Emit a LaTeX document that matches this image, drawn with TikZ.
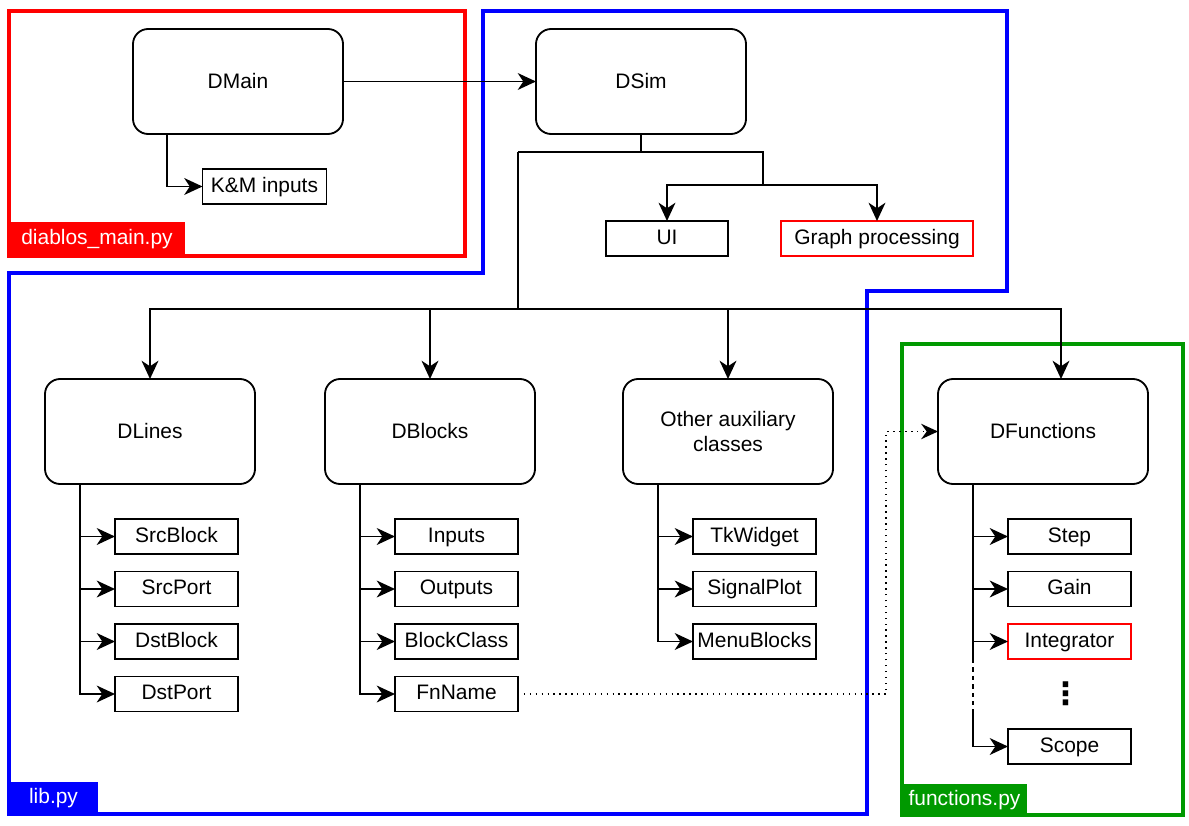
\documentclass[tikz,border=0pt]{standalone}
\usepackage{fontspec}
\setmainfont{Liberation Sans}
\newfontfamily\symfont{DejaVu Sans}
\usepackage{tikz}
\usetikzlibrary{arrows.meta, positioning, calc}

\begin{document}
\begin{tikzpicture}[
  x=0.025cm, y=-0.025cm,
  font=\fontsize{14.9}{17.5}\selectfont,
  rbox/.style={draw, line width=1.3pt, rounded corners=0.38cm, minimum width=5.25cm, minimum height=2.625cm, inner sep=0pt, outer sep=0pt, align=center},
  cbox/.style={draw, line width=1.3pt, minimum width=3.075cm, minimum height=0.875cm, inner sep=0pt, outer sep=0pt, text depth=0.3ex, text height=1.9ex},
  line/.style={line width=1.3pt},
  arr/.style={line, -{Stealth[length=13pt, width=12pt, inset=4pt]}},
  dotarr/.style={line width=1pt, dash pattern=on 1pt off 3.2pt, -{Stealth[length=12pt, width=11pt, inset=4pt]}},
  frame/.style={line width=2.2pt},
  tag/.style={anchor=south west, text=white, inner sep=0pt, outer sep=0pt, minimum height=0.875cm}
]
  \useasboundingbox (0,0) rectangle (1189,826);

  % module frames
  \draw[frame, red] (9,11) rectangle (465,256);
  \node[tag, fill=red, minimum width=4.4cm] (maintag) at (9,257) {diablos\_main.py};
  \draw[frame, blue] (483,11) -- (1007,11) -- (1007,291) -- (867,291) -- (867,814) -- (9,814) -- (9,273) -- (483,273) -- cycle;
  \node[tag, fill=blue, minimum width=2.225cm, minimum height=0.825cm] (libtag) at (9,815) {lib.py};
  \draw[frame, green!60!black] (902,344) rectangle (1183,815);
  \node[tag, fill=green!60!black, minimum width=3.125cm, minimum height=0.8cm] (functag) at (902,816) {functions.py};

  % top level
  \node[rbox] (dmain) at (238,81.5) {DMain};
  \node[rbox] (dsim) at (641,81.5) {DSim};
  \node[cbox, minimum width=3.1cm] (km) at (264.5,186.5) {K\&M inputs};
  \node[cbox, minimum width=3.05cm] (ui) at (667,238.5) {UI};
  \node[cbox, draw=red, minimum width=4.8cm] (graph) at (877,238.5) {Graph processing};

  \draw[arr] (dmain) -- (dsim);
  \draw[arr] ([xshift=0.85cm]dmain.south west) |- (km.west);

  \coordinate (split) at (641,152);
  \coordinate (uibranch) at (763,185);
  \coordinate (hub) at (518,309);
  \coordinate (fhub) at (1061,309);
  \draw[line] (dsim.south) -- (split);
  \draw[line] (hub |- split) -- (uibranch |- split) -- (uibranch);
  \draw[arr] (uibranch) -| (ui.north);
  \draw[arr] (uibranch) -| (graph.north);
  \draw[line] (hub |- split) -- (hub);

  % second level
  \node[rbox] (dlines) at (150,431.5) {DLines};
  \node[rbox] (dblocks) at (430,431.5) {DBlocks};
  \node[rbox] (other) at (728,431.5) {Other auxiliary\\classes};
  \node[rbox] (dfunc) at (1043,431.5) {DFunctions};

  \draw[arr] (hub) -| (dlines.north);
  \draw[arr] (hub) -| (dblocks.north);
  \draw[arr] (hub) -| (other.north);
  \draw[arr] (hub) -- (fhub) -- (fhub |- dfunc.north);

  % attributes
  \node[cbox] (srcblock) at (176.5,536.5) {SrcBlock};
  \node[cbox] (srcport) at (176.5,589) {SrcPort};
  \node[cbox] (dstblock) at (176.5,641.5) {DstBlock};
  \node[cbox] (dstport) at (176.5,694) {DstPort};

  \node[cbox] (inputs) at (456.5,536.5) {Inputs};
  \node[cbox] (outputs) at (456.5,589) {Outputs};
  \node[cbox] (blockclass) at (456.5,641.5) {BlockClass};
  \node[cbox] (fnname) at (456.5,694) {FnName};

  \node[cbox] (tkwidget) at (754.5,536.5) {TkWidget};
  \node[cbox] (signalplot) at (754.5,589) {SignalPlot};
  \node[cbox] (menublocks) at (754.5,641.5) {MenuBlocks};

  \node[cbox] (step) at (1069.5,536.5) {Step};
  \node[cbox] (gain) at (1069.5,589) {Gain};
  \node[cbox, draw=red] (integrator) at (1069.5,641.5) {Integrator};
  \node[font=\symfont\bfseries\fontsize{22}{24}\selectfont, inner sep=0pt] (vdots) at (1066,694) {⋮};
  \node[cbox] (scope) at (1069.5,746.5) {Scope};

  \foreach \child in {srcblock, srcport, dstblock, dstport}
    \draw[arr] ([xshift=0.875cm]dlines.south west) |- (\child.west);
  \foreach \child in {inputs, outputs, blockclass, fnname}
    \draw[arr] ([xshift=0.875cm]dblocks.south west) |- (\child.west);
  \foreach \child in {tkwidget, signalplot, menublocks}
    \draw[arr] ([xshift=0.875cm]other.south west) |- (\child.west);
  \foreach \child in {step, gain, integrator}
    \draw[arr] ([xshift=0.875cm]dfunc.south west) |- (\child.west);

  \coordinate (gapstart) at (973,659);
  \coordinate (gapend) at (973,709);
  \draw[line] (integrator.west -| gapstart) -- (gapstart);
  \draw[line, dashed] (gapstart) -- (gapend);
  \draw[arr] (gapend) |- (scope.west);

  % link to the function library
  \coordinate (dotbend) at (886,694);
  \draw[dotarr] (fnname.east) -- (dotbend) |- (dfunc.west);
\end{tikzpicture}
\end{document}
